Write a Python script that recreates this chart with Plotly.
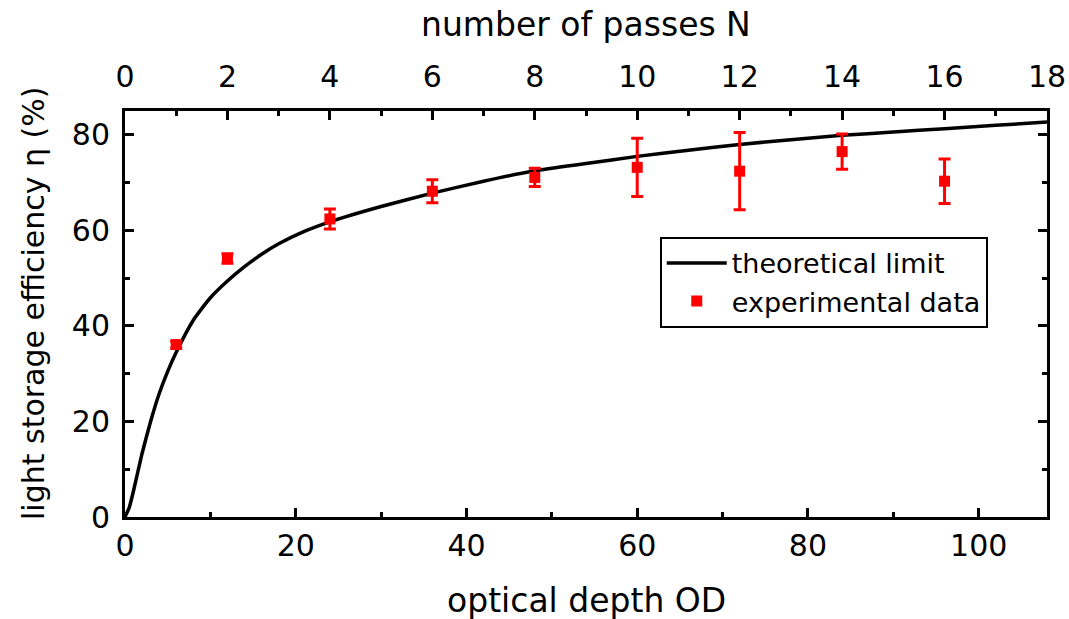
import plotly.graph_objects as go

# theoretical limit curve
theory_od = [0, 0.5, 1, 2, 3, 4, 5, 6, 8, 10, 12, 14, 16, 18, 21, 24, 30, 36, 42, 48,
             54, 60, 66, 72, 78, 84, 90, 96, 102, 108]
theory_eta = [0, 2.0, 5.5, 13.3, 20, 25.8, 30.5, 34.5, 41.2, 45.9, 49.4, 52.4, 55.0, 57.2,
              59.8, 61.8, 65.0, 67.8, 70.3, 72.5, 74.0, 75.5, 76.8, 78.0, 79.0, 79.9,
              80.6, 81.3, 82.0, 82.7]

# experimental data
exp_od = [6, 12, 24, 36, 48, 60, 72, 84, 96]
exp_eta = [36.1, 54.1, 62.4, 68.2, 71.1, 73.2, 72.4, 76.5, 70.3]
exp_err = [0.7, 1.0, 2.1, 2.4, 1.9, 6.1, 8.1, 3.7, 4.65]

passes_n = [0, 18]

x_title = "optical depth OD"
x2_title = "number of passes N"
y_title = "light storage efficiency η (%)"

FONT = "DejaVu Sans, Liberation Sans, Arial, sans-serif"

fig = go.Figure()
fig.add_trace(go.Scatter(
    x=theory_od, y=theory_eta, mode="lines", name="theoretical limit",
    line=dict(color="black", width=3.5, shape="spline", smoothing=0.5),
))
fig.add_trace(go.Scatter(
    x=exp_od, y=exp_eta, mode="markers", name="experimental data",
    marker=dict(symbol="square", size=11, color="#ff0000"),
    error_y=dict(type="data", array=exp_err, visible=True, color="#ff0000",
                 thickness=3, width=6),
))
# invisible trace to attach the top axis
fig.add_trace(go.Scatter(
    x=passes_n, y=[0, 0], xaxis="x2", mode="markers",
    marker=dict(opacity=0), showlegend=False, hoverinfo="skip",
))

axis_common = dict(
    showline=True, linecolor="black", linewidth=3,
    ticks="inside", tickcolor="black", tickwidth=3, ticklen=9,
    showgrid=False, zeroline=False, automargin=False,
    tickfont=dict(family=FONT, size=30, color="black"),
)
minor_common = dict(ticks="inside", ticklen=5, tickwidth=3, tickcolor="black")

fig.update_layout(
    width=1069, height=619,
    margin=dict(l=125, r=22, t=111, b=102),
    plot_bgcolor="white", paper_bgcolor="white",
    font=dict(family=FONT, color="black"),
    xaxis=dict(
        range=[0, 108], dtick=20, tick0=0,
        minor=dict(dtick=10, **minor_common),
        ticklabelstandoff=0,
        **axis_common,
    ),
    xaxis2=dict(
        range=[0, 18], dtick=2, tick0=0, overlaying="x", side="top", anchor="y",
        minor=dict(dtick=1, **minor_common),
        ticklabelstandoff=9,
        **axis_common,
    ),
    yaxis=dict(
        range=[0, 85], dtick=20, tick0=0, mirror="ticks",
        minor=dict(dtick=10, **minor_common),
        ticklabelstandoff=6,
        **axis_common,
    ),
    legend=dict(
        x=0.58, y=0.69, xanchor="left", yanchor="top",
        bordercolor="black", borderwidth=2, bgcolor="white",
        font=dict(family=FONT, size=27, color="black"),
        itemwidth=60, tracegroupgap=0,
    ),
    showlegend=True,
    annotations=[
        dict(text=x_title, xref="paper", yref="paper", x=0.5, y=(517 - 600) / 406,
             xanchor="center", yanchor="middle", showarrow=False,
             font=dict(family=FONT, size=33, color="black")),
        dict(text=x2_title, xref="paper", yref="paper", x=0.5, y=(517 - 25) / 406,
             xanchor="center", yanchor="middle", showarrow=False,
             font=dict(family=FONT, size=33, color="black")),
        dict(text=y_title, xref="paper", yref="paper", x=(33 - 125) / 922, y=(517 - 303) / 406,
             xanchor="center", yanchor="middle", showarrow=False, textangle=-90,
             font=dict(family=FONT, size=30, color="black")),
    ],
)

fig.write_html("out.html")
